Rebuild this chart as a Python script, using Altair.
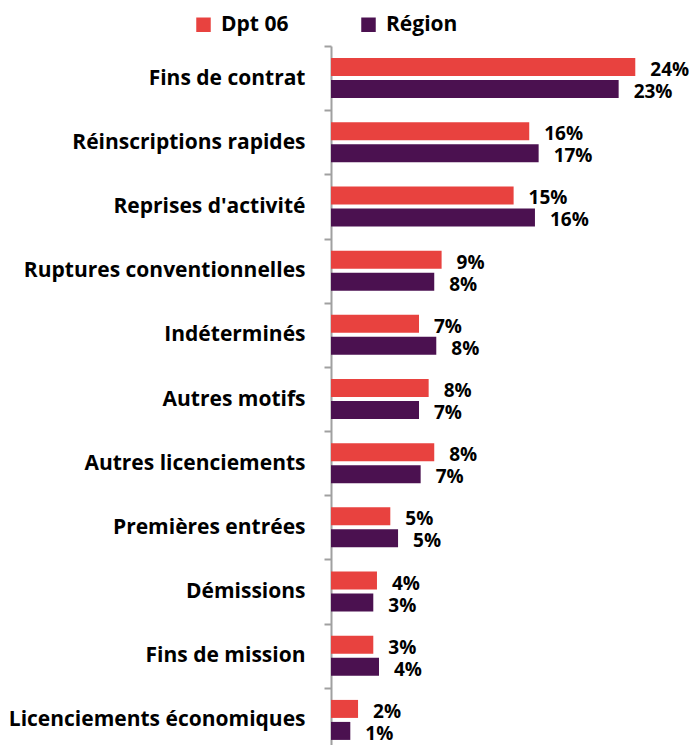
import altair as alt
import pandas as pd

categories = ["Fins de contrat", "Réinscriptions rapides", "Reprises d'activité",
              "Ruptures conventionnelles", "Indéterminés", "Autres motifs",
              "Autres licenciements", "Premières entrées", "Démissions",
              "Fins de mission", "Licenciements économiques"]
series = ["Dpt 06", "Région"]
dpt06 = [23.96, 15.61, 14.38, 8.71, 6.93, 7.69, 8.13, 4.67, 3.62, 3.33, 2.13]
region = [22.65, 16.35, 16.06, 8.13, 8.29, 6.93, 7.06, 5.28, 3.33, 3.78, 1.52]
dpt06_labels = ["24%", "16%", "15%", "9%", "7%", "8%", "8%", "5%", "4%", "3%", "2%"]
region_labels = ["23%", "17%", "16%", "8%", "8%", "7%", "7%", "5%", "3%", "4%", "1%"]
colors = ["#E8423F", "#4B1150"]

rows = []
for c, v, l in zip(categories, dpt06, dpt06_labels):
    rows.append({"cat": c, "serie": series[0], "value": v, "label": l})
for c, v, l in zip(categories, region, region_labels):
    rows.append({"cat": c, "serie": series[1], "value": v, "label": l})
df = pd.DataFrame(rows)

FONT = "Open Sans"

y = alt.Y("cat:N", sort=categories,
          scale=alt.Scale(paddingInner=0, paddingOuter=0),
          axis=alt.Axis(title=None, labelFont=FONT, labelFontSize=21,
                        labelFontWeight="bold", labelColor="black",
                        domainColor="#a0a0a0", domainWidth=2,
                        tickColor="#a0a0a0", tickWidth=2, tickSize=7,
                        tickBand="extent", labelPadding=19, labelLimit=400))
yoff = alt.YOffset("serie:N", sort=series,
                   scale=alt.Scale(paddingInner=0.1818, paddingOuter=0.55))
x = alt.X("value:Q", scale=alt.Scale(domain=[0, 28.19]), axis=None)

base = alt.Chart(df)
bars = base.mark_bar().encode(
    y=y, yOffset=yoff, x=x,
    color=alt.Color("serie:N", sort=series,
                    scale=alt.Scale(domain=series, range=colors),
                    legend=alt.Legend(title=None, orient="none", direction="horizontal",
                                      legendX=-138, legendY=-32,
                                      symbolType="square", symbolSize=210,
                                      symbolStrokeWidth=0,
                                      labelFont=FONT, labelFontSize=21,
                                      labelFontWeight="bold", labelColor="black",
                                      labelOffset=7, columnPadding=69)),
)
texts = base.mark_text(align="left", baseline="middle", dx=15, dy=3,
                       font=FONT, fontSize=19, fontWeight="bold",
                       color="black").encode(
    y=y, yOffset=yoff, x=x, text="label:N")

chart = alt.layer(bars, texts).properties(
    width=358, height=706,
    autosize=alt.AutoSizeParams(type="none"),
    padding={"left": 323, "top": 38, "right": 0, "bottom": 0},
).configure_view(stroke=None)

chart.save("out.html", embed_options={"renderer": "svg", "actions": False})
